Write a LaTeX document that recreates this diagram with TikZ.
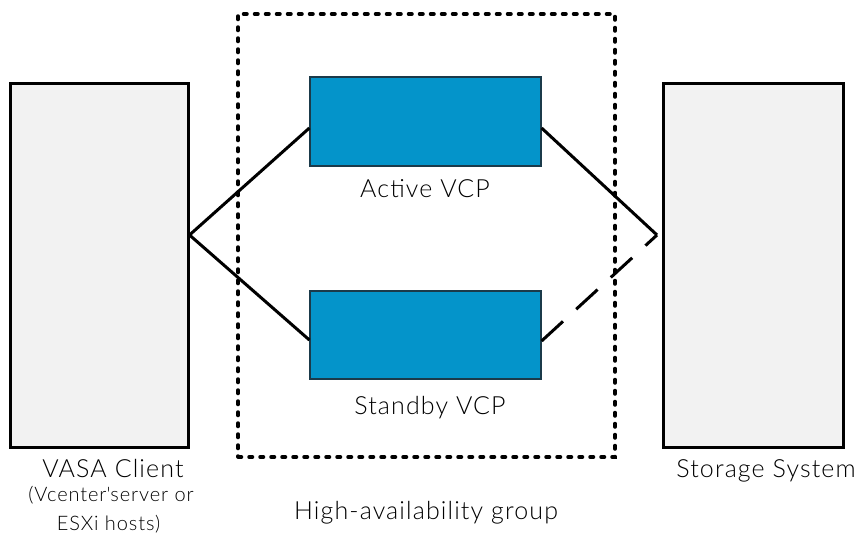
\documentclass[tikz,border=0pt]{standalone}
\usepackage{fontspec}
\setmainfont{Lato}[UprightFont=* Light,LetterSpace=4.5]
\begin{document}
\begin{tikzpicture}[x=1pt,y=-1pt,
  endbox/.style={draw=black,line width=3pt,fill=panelgray,minimum width=178pt,minimum height=364pt,inner sep=0pt},
  vcpbox/.style={draw=vcpedge,line width=1.2pt,fill=vcpblue,minimum width=231pt,minimum height=89pt,inner sep=0pt},
  groupbox/.style={draw=black,line width=3.5pt,line cap=round,dash pattern=on 3.5pt off 7.5pt,minimum width=377pt,minimum height=443pt,inner sep=0pt},
  link/.style={draw=black,line width=3pt},
  standbylink/.style={link,dash pattern=on 29pt off 18pt},
  lbl/.style={inner sep=0pt,anchor=base,font=\fontsize{25}{30}\selectfont},
  sublbl/.style={lbl,font=\fontsize{20}{24}\selectfont}]
\definecolor{panelgray}{HTML}{F2F2F2}
\definecolor{vcpblue}{HTML}{0494CA}
\definecolor{vcpedge}{HTML}{1B3A4A}
\useasboundingbox (0,0) rectangle (863,539);

% end points of the protocol
\node[endbox] (client) at (99,265) {};
\node[endbox,minimum width=180pt] (storage) at (753,265) {};

% high-availability group and its two providers
\node[groupbox] (group) at (426.5,235.5) {};
\node[vcpbox] (active) at (425.5,121.5) {};
\node[vcpbox,minimum height=88pt] (standby) at (425.5,335) {};

% labels (placed by baseline)
\node[lbl] (activelbl) at (425,197) {Active VCP};
\node[lbl] (standbylbl) at (430,414) {Standby VCP};
\node[lbl] (clientlbl) at (113,477) {VASA Client};
\node[sublbl] (clientsub1) at (111,501) {(Vcenter\textquotesingle server or};
\node[sublbl] (clientsub2) at (108.5,530) {ESXi hosts)};
\node[lbl] (storagelbl) at (766,477) {Storage System};
\node[lbl] (grouplbl) at (426,519) {High-availability group};

% connection points
\coordinate (cpt) at (client.east |- 0,235);
\coordinate (spt) at (657,235);

% connectors
\draw[link] (active.west |- 0,128) -- (cpt) -- (standby.west |- 0,340);
\draw[link] (active.east |- 0,128) -- (spt);
\draw[standbylink] (standby.east |- 0,341) -- (spt);
\end{tikzpicture}
\end{document}
